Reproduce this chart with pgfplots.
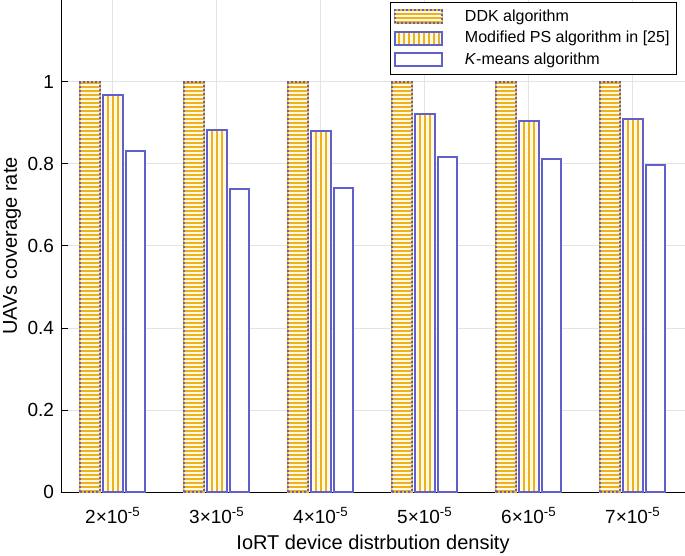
\documentclass[border=0pt]{standalone}
\usepackage{fontspec}
\setmainfont{Liberation Sans}
\usepackage{pgfplots}
\pgfplotsset{compat=1.18}
\definecolor{edgeblue}{RGB}{96,96,204}
\definecolor{myyellow}{RGB}{237,177,32}
\definecolor{cream}{RGB}{255,250,225}
\pgfplotsset{/pgfplots/ybar legend/.style={/pgfplots/legend image code/.code={\draw[##1] (0bp,-3.25bp) rectangle (23.5bp,3.25bp);}}}
\tikzset{
  hstripes/.style={path picture={%
    \pgfsetstrokecolor{myyellow}\pgfsetlinewidth{1.15bp}\pgfsetdash{}{0pt}%
    \foreach \k in {0,...,130} {%
      \pgfpathmoveto{\pgfpointadd{\pgfpointanchor{path picture bounding box}{south west}}{\pgfpoint{-2bp}{\k*2bp+0.6bp}}}%
      \pgfpathlineto{\pgfpointadd{\pgfpointanchor{path picture bounding box}{south east}}{\pgfpoint{2bp}{\k*2bp+0.6bp}}}%
      \pgfusepath{stroke}}}},
  vstripes/.style={path picture={%
    \pgfsetstrokecolor{myyellow}\pgfsetlinewidth{1bp}\pgfsetdash{}{0pt}%
    \foreach \k in {-2,...,132} {%
      \pgfpathmoveto{\pgfpointadd{\pgfpointanchor{path picture bounding box}{south west}}{\pgfpoint{4.758bp+\k*2.4762bp}{-2bp}}}%
      \pgfpathlineto{\pgfpointadd{\pgfpointanchor{path picture bounding box}{south west}}{\pgfpoint{4.758bp+\k*2.4762bp}{260bp}}}%
      \pgfusepath{stroke}}}},
}
\begin{document}
\begin{tikzpicture}
\begin{axis}[
  name=ax,
  scale only axis, width=312bp, height=246bp,
  xmin=0.5, xmax=6.5, ymin=0, ymax=1.2,
  axis x line=bottom, axis y line=left,
  axis line style={-, black, line width=0.5bp},
  ybar, bar width=0.183,
  xtick={1,2,3,4,5,6},
  xticklabels={2×10\textsuperscript{-5},3×10\textsuperscript{-5},4×10\textsuperscript{-5},5×10\textsuperscript{-5},6×10\textsuperscript{-5},7×10\textsuperscript{-5}},
  ytick={0,0.2,0.4,0.6,0.8,1},
  tick align=inside, major tick length=3.5bp,
  tick style={black, line width=0.5bp},
  grid=major, grid style={black!11, line width=0.5bp},
  ticklabel style={font=\fontsize{9.5bp}{11bp}\selectfont},
  xticklabel style={yshift=-4bp},
  /pgf/number format/assume math mode=true,
  xlabel={IoRT device distrbution density},
  ylabel={UAVs coverage rate},
  every axis x label/.style={at={(axis description cs:0.5,0)}, yshift=-26bp, anchor=center, font=\fontsize{10bp}{12bp}\selectfont},
  every axis y label/.style={at={(axis description cs:0,0.5)}, xshift=-24.5bp, rotate=90, anchor=center, font=\fontsize{10bp}{12bp}\selectfont},
  legend style={at={(1,1)}, anchor=north east, xshift=-4bp, yshift=-1bp, draw=black, line width=0.5bp,
    font=\fontsize{8bp}{9.5bp}\selectfont, cells={anchor=west}, inner sep=1.5bp, row sep=-0.5bp,
    /tikz/every odd column/.append style={column sep=9bp}},
  legend cell align=left,
]
\addplot[bar shift=-0.221, draw=myyellow, line width=1bp, fill=cream, hstripes,
  postaction={draw=edgeblue, line width=1bp, dash pattern=on 0.9bp off 1.1bp}]
  coordinates {(1,1) (2,1) (3,1) (4,1) (5,1) (6,1)};
\addlegendentry{DDK algorithm}
\addplot[bar shift=0, draw=edgeblue, line width=1bp, fill=cream, vstripes]
  coordinates {(1,0.968) (2,0.883) (3,0.881) (4,0.921) (5,0.905) (6,0.909)};
\addlegendentry{Modified PS algorithm in [25]}
\addplot[bar shift=0.221, draw=edgeblue, line width=1bp, fill=white]
  coordinates {(1,0.832) (2,0.740) (3,0.742) (4,0.817) (5,0.813) (6,0.797)};
\addlegendentry{\textit{K}-means algorithm}
\end{axis}
\pgfresetboundingbox
\path[use as bounding box] ([xshift=-30.5bp,yshift=-32bp]ax.south west) rectangle (ax.north east);
\end{tikzpicture}
\end{document}
